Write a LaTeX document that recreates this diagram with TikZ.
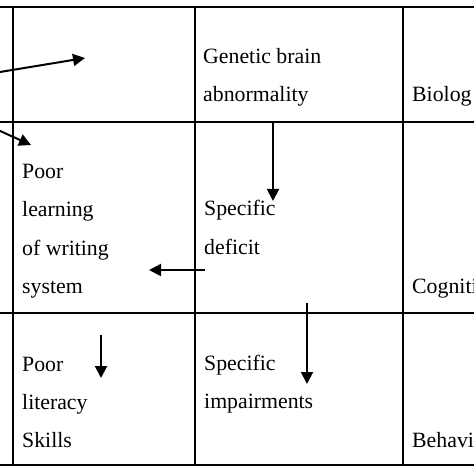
\documentclass[tikz,border=0pt]{standalone}
\usepackage{fontspec}
\setmainfont{Liberation Serif}
\usetikzlibrary{arrows.meta}
\begin{document}
\begin{tikzpicture}[x=1bp,y=-1bp,
  grid/.style={line width=2.8bp},
  arr/.style={line width=2bp,-{Triangle[length=12bp,width=12bp]}},
  cell/.style={anchor=base west, inner sep=0pt, align=left,
    font=\fontsize{21.8bp}{38bp}\selectfont}]
\useasboundingbox (0,0) rectangle (474,474);
\clip (0,0) rectangle (474,474);
% grid
\draw[grid] (-5,7) -- (480,7);
\draw[grid] (-5,122) -- (480,122);
\draw[grid] (-5,313) -- (480,313);
\draw[grid] (-5,465) -- (480,465);
\draw[grid] (13,7) -- (13,465);
\draw[grid] (195,7) -- (195,465);
\draw[grid] (403,7) -- (403,465);
% texts (anchor = baseline of last line)
\node[cell] (gen) at (203,102) {Genetic brain\\abnormality};
\node[cell] (bio) at (412,102) {Biolog};
\node[cell] (poorlearn) at (22,293) {Poor\\learning\\of writing\\system};
\node[cell] (spdef) at (204,254) {Specific\\deficit};
\node[cell] (cog) at (412,293) {Cogniti};
\node[cell] (poorlit) at (22,447) {Poor\\literacy\\Skills};
\node[cell] (spimp) at (204,408) {Specific\\impairments};
\node[cell] (beh) at (412,447) {Behavi};
% arrow ends
\coordinate (a1s) at (0,72);
\coordinate (a1e) at (85,58);
\coordinate (a2s) at (-2,130);
\coordinate (a2e) at (31,145);
\coordinate (a3s) at (273,122);
\coordinate (a3e) at (273,201);
\coordinate (a4s) at (205,270);
\coordinate (a4e) at (149,270);
\coordinate (a5s) at (307,303);
\coordinate (a5e) at (307,384);
\coordinate (a6s) at (101,335);
\coordinate (a6e) at (101,378);
\draw[arr] (a1s) -- (a1e);
\draw[arr] (a2s) -- (a2e);
\draw[arr] (a3s) -- (a3e);
\draw[arr] (a4s) -- (a4e);
\draw[arr] (a5s) -- (a5e);
\draw[arr] (a6s) -- (a6e);
\end{tikzpicture}
\end{document}
